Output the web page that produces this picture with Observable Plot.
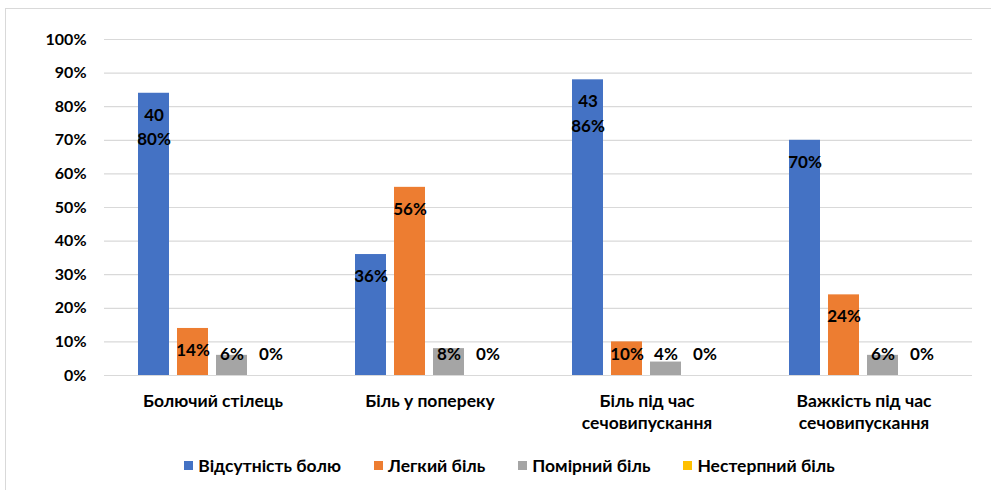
<!DOCTYPE html>
<html>
<head>
<meta charset="utf-8">
<script src="https://cdn.jsdelivr.net/npm/d3@7"></script>
<script src="https://cdn.jsdelivr.net/npm/@observablehq/plot@0.6"></script>
<style>
  html, body { margin: 0; padding: 0; background: #fff; }
  body { width: 991px; height: 490px; overflow: hidden; position: relative; font-family: Lato, "Open Sans", sans-serif; }
  #frame { position: absolute; left: 5px; top: 8px; width: 1000px; height: 500px; border: 1px solid #d9d9d9; box-sizing: border-box; }
  #chart { position: absolute; left: 0; top: 0; }
  #legend { position: absolute; left: 14px; top: 455px; width: 991px; display: flex; justify-content: center; gap: 33px; font: bold 17.5px Lato, sans-serif; color: #000; }
  #legend .item { display: flex; align-items: center; gap: 5px; }
  #legend .sw { width: 9px; height: 9px; display: inline-block; }
</style>
</head>
<body>
<div id="frame"></div>
<div id="chart"></div>
<div id="legend"></div>
<script>
const categories = ["Болючий стілець", "Біль у попереку", "Біль під час сечовипускання", "Важкість під час сечовипускання"];
const categoryTickLabels = ["Болючий стілець", "Біль у попереку", "Біль під час\nсечовипускання", "Важкість під час\nсечовипускання"];
const series = ["Відсутність болю", "Легкий біль", "Помірний біль", "Нестерпний біль"];
const colors = ["#4472C4", "#ED7D31", "#A5A5A5", "#FFC000"];

const absentValues   = [84, 36, 88, 70];
const mildValues     = [14, 56, 10, 24];
const moderateValues = [6, 8, 4, 6];
const severeValues   = [0, 0, 0, 0];

const absentLabels   = ["40\n80%", "36%", "43\n86%", "70%"];
const mildLabels     = ["14%", "56%", "10%", "24%"];
const moderateLabels = ["6%", "8%", "4%", "6%"];
const severeLabels   = ["0%", "0%", "0%", "0%"];

const yTicks = [0, 10, 20, 30, 40, 50, 60, 70, 80, 90, 100];

const valueSets = [absentValues, mildValues, moderateValues, severeValues];
const labelSets = [absentLabels, mildLabels, moderateLabels, severeLabels];

const rows = [];
categories.forEach((c, i) => {
  series.forEach((s, j) => {
    rows.push({category: c, series: s, value: valueSets[j][i], label: labelSets[j][i]});
  });
});

const font = "Lato, 'Open Sans', sans-serif";

const plot = Plot.plot({
  width: 991,
  height: 440,
  marginTop: 39,
  marginBottom: 65,
  marginLeft: 103,
  marginRight: 19,
  style: {fontFamily: font, fontSize: "16px", fontWeight: "bold", color: "#000", background: "transparent"},
  fx: {domain: categories, padding: 0, label: null},
  x: {domain: series, paddingInner: 0.2, paddingOuter: 0.85, axis: null},
  y: {domain: [0, 100], label: null},
  color: {domain: series, range: colors},
  marks: [
    Plot.gridY(yTicks, {stroke: "#d9d9d9", strokeOpacity: 1, strokeWidth: 1.2}),
    Plot.axisY(yTicks, {tickSize: 0, tickPadding: 18, tickFormat: d => d + "%", fontSize: 16, fontWeight: "bold", fill: "#000", label: null}),
    Plot.axisFx({anchor: "bottom", tickSize: 0, tickPadding: 16, lineHeight: 1.26, tickFormat: d => categoryTickLabels[categories.indexOf(d)], fontSize: 17.5, fontWeight: "bold", fill: "#000", label: null}),
    Plot.barY(rows, {fx: "category", x: "series", y: "value", fill: "series"}),
    Plot.text(rows, {fx: "category", x: "series", y: d => Math.max(d.value, 12.8), text: "label", lineAnchor: "top", dy: 10, lineHeight: 1.45, fontSize: 17, fontWeight: "bold", fill: "#000"})
  ]
});
document.getElementById("chart").appendChild(plot);

const legend = document.getElementById("legend");
const colorScale = plot.scale("color");
series.forEach((s, j) => {
  const item = document.createElement("span");
  item.className = "item";
  const sw = document.createElement("span");
  sw.className = "sw";
  sw.style.background = colorScale.range[j];
  item.appendChild(sw);
  const t = document.createElement("span");
  t.textContent = s;
  item.appendChild(t);
  legend.appendChild(item);
});
</script>
</body>
</html>
